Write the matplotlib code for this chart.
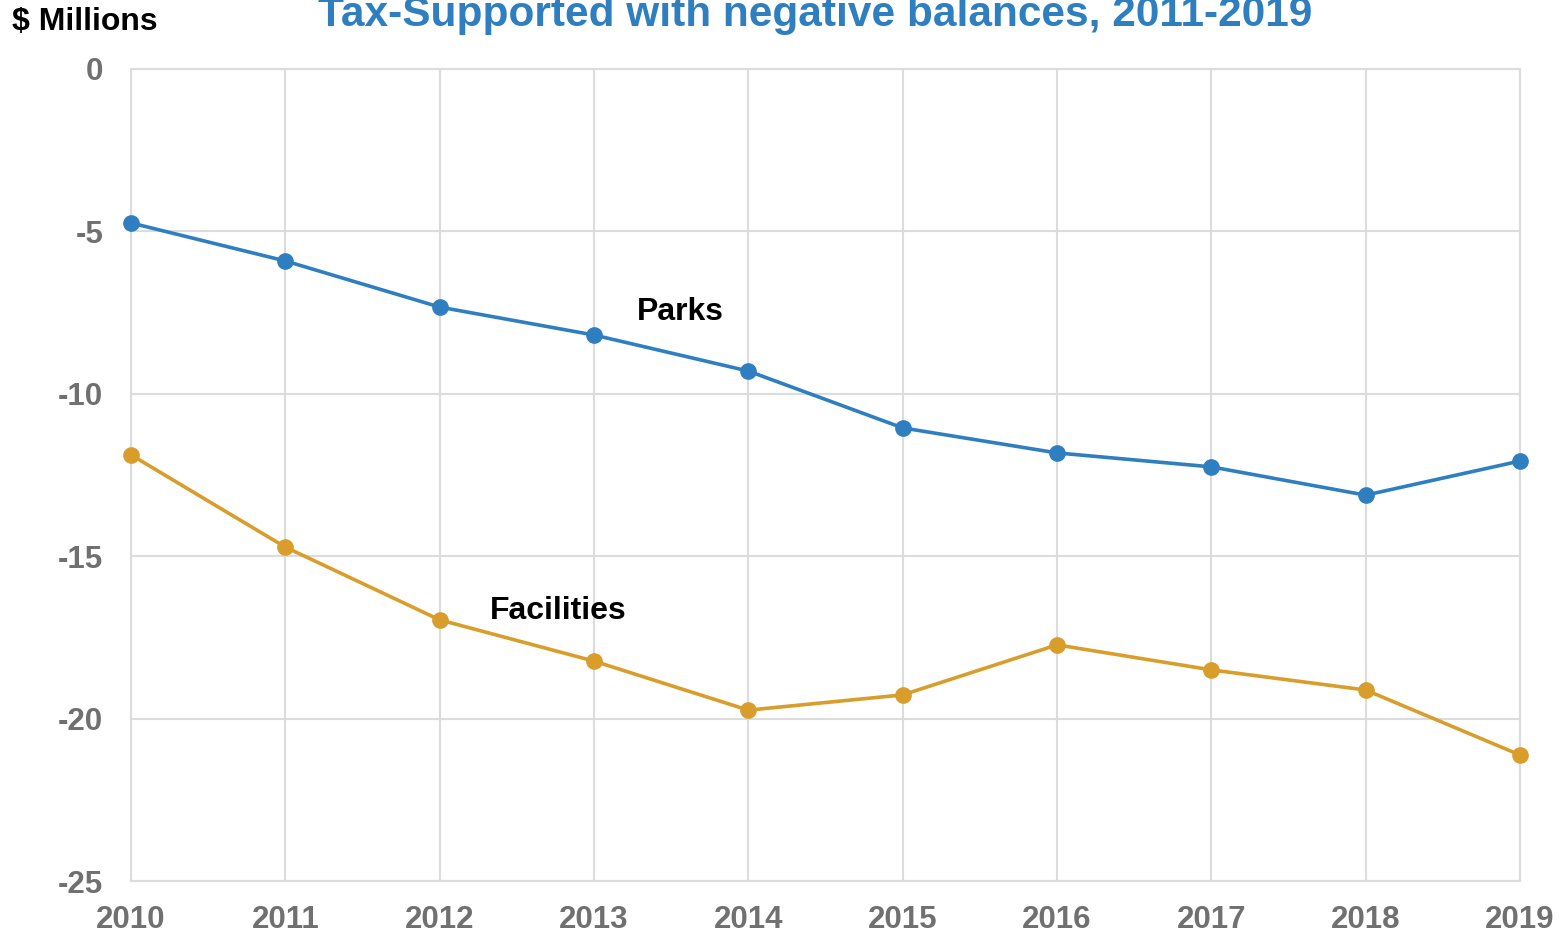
import matplotlib.pyplot as plt

# jaren op de x-as en saldi in miljoenen
years = [2010, 2011, 2012, 2013, 2014, 2015, 2016, 2017, 2018, 2019]
parks = [-4.74, -5.91, -7.33, -8.19, -9.30, -11.05, -11.82, -12.25, -13.12, -12.07]
facilities = [-11.88, -14.72, -16.96, -18.23, -19.74, -19.27, -17.73, -18.50, -19.12, -21.12]
y_ticks = [0, -5, -10, -15, -20, -25]

blue = '#2E7EC0'
gold = '#D99D2B'
grey_txt = '#707070'
grid_col = '#DCDCDC'

plt.rcParams['font.family'] = ['Liberation Sans', 'DejaVu Sans']
plt.rcParams['font.weight'] = 'bold'
plt.rcParams['axes.unicode_minus'] = False

fig = plt.figure(figsize=(15.66, 9.32), dpi=100)
ax = fig.add_axes([131 / 1566, 1 - 881 / 932, (1520 - 131) / 1566, (881 - 69) / 932])

ax.plot(years, parks, color=blue, lw=2.6, marker='o', ms=11, zorder=3, clip_on=False)
ax.plot(years, facilities, color=gold, lw=2.6, marker='o', ms=11, zorder=3, clip_on=False)

ax.set_xlim(2010, 2019)
ax.set_ylim(-25, 0)
ax.set_xticks(years)
ax.set_yticks(y_ticks)
ax.tick_params(axis='both', length=0, labelsize=22.5, labelcolor=grey_txt)
ax.tick_params(axis='x', pad=17)
ax.tick_params(axis='y', pad=20)
for lab in ax.get_xticklabels() + ax.get_yticklabels():
    lab.set_fontweight('bold')

ax.grid(True, color=grid_col, lw=1.5)
for s in ax.spines.values():
    s.set_color(grid_col)
    s.set_linewidth(1.5)

# labels bij de lijnen
ax.text(2013.56, parks[3] + 0.7, 'Parks', fontsize=23, fontweight='bold', ha='center', va='center')
ax.text(2012.77, facilities[2] + 0.28, 'Facilities', fontsize=23, fontweight='bold', ha='center', va='center')

fig.text(12 / 1566, 1 - 22 / 932, '$ Millions', fontsize=23, fontweight='bold', ha='left', va='center')
fig.text(815 / 1566, 1 - 26 / 932, 'Tax-Supported with negative balances, 2011-2019',
         fontsize=30.5, fontweight='bold', color=blue, ha='center', va='baseline')

fig.savefig('out.png', dpi=100)
